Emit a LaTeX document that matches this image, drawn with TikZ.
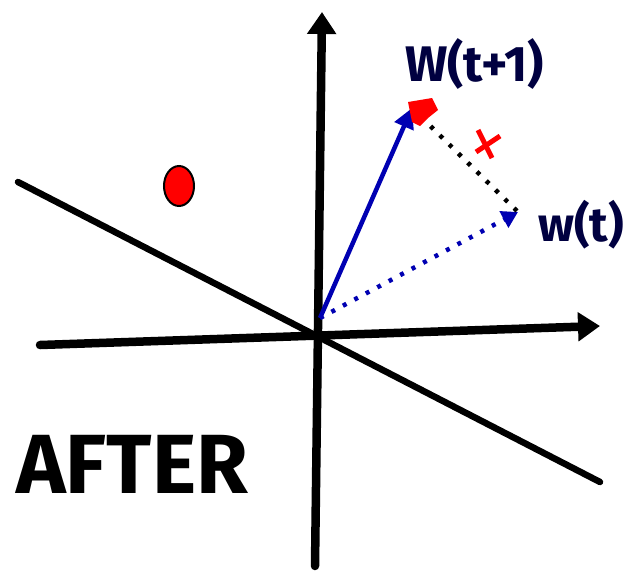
\documentclass[tikz,border=0pt]{standalone}
\usepackage{fontspec}
\setsansfont{Fira Sans}
\usetikzlibrary{arrows.meta,shapes.geometric}
\begin{document}
\begin{tikzpicture}[x=1pt,y=-1pt,
  axis/.style={line width=8.5pt,line cap=round,-{Triangle[length=22pt,width=28pt]}},
  plain/.style={line width=6.5pt,line cap=round},
  vec/.style={line width=4.5pt,draw=blue!70!black,-{Triangle[length=20pt,width=20pt]}},
  dots/.style={line width=4.5pt,dash pattern=on 4pt off 9pt},
  lab/.style={font=\sffamily\bfseries, text=blue!25!black, inner sep=0pt}]
\useasboundingbox (0,0) rectangle (626,571);
\coordinate (O) at (320,318);
\coordinate (vb) at (315,566);
\coordinate (vt) at (322,12);
\coordinate (hl) at (40,345);
\coordinate (hr) at (600,326);
\coordinate (dl) at (18,182);
\coordinate (dr) at (600,482);
\coordinate (W) at (412,108);
\coordinate (U) at (518,212);
\draw[axis] (vb) -- (vt);
\draw[axis] (hl) -- (hr);
\draw[plain] (dl) -- (dr);
\draw[vec] (O) -- (W);
\draw[dots,blue!70!black,-{Triangle[length=16pt,width=18pt]}] (O) -- (U);
\draw[dots] (W) -- (U);
\fill[red] (408,102) -- (432,98) -- (438,110) -- (428,118) -- (420,126) -- (412,122) -- cycle;
\draw[red,line width=5pt] (478,130) -- (492,158);
\draw[red,line width=5pt] (476,152) -- (500,136);
\node[draw=black,line width=2pt,fill=red,ellipse,minimum width=30pt,minimum height=40pt,inner sep=0pt] (dot) at (179,186) {};
\node[lab,anchor=west] (wl) at (405,64) {\fontsize{50}{50}\selectfont W(t+1)};
\node[lab,anchor=west] (ul) at (538,225) {\fontsize{48}{48}\selectfont w(t)};
\node[font=\sffamily\bfseries,inner sep=0pt,anchor=west] (after) at (16,464) {\fontsize{84}{84}\selectfont AFTER};
\end{tikzpicture}
\end{document}
